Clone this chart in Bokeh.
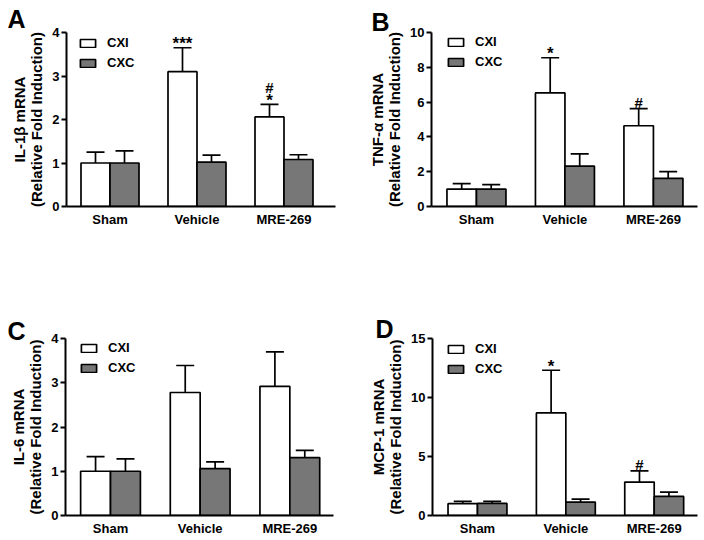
from bokeh.plotting import figure
from bokeh.models import (Range1d, FixedTicker, Whisker, TeeHead, Label,
                          Legend, LegendItem, ColumnDataSource)
from bokeh.layouts import column, row
from bokeh.embed import file_html
from bokeh.resources import INLINE

# ---------------- data ----------------
groups = ["Sham", "Vehicle", "MRE-269"]
series_names = ["CXI", "CXC"]

il1b_cxi = [1.00, 3.10, 2.06]
il1b_cxi_err = [0.25, 0.55, 0.29]
il1b_cxc = [1.00, 1.02, 1.08]
il1b_cxc_err = [0.28, 0.16, 0.11]

tnf_cxi = [1.00, 6.53, 4.64]
tnf_cxi_err = [0.32, 2.02, 0.98]
tnf_cxc = [1.00, 2.32, 1.62]
tnf_cxc_err = [0.26, 0.70, 0.38]

il6_cxi = [1.00, 2.78, 2.92]
il6_cxi_err = [0.33, 0.61, 0.78]
il6_cxc = [1.00, 1.06, 1.31]
il6_cxc_err = [0.28, 0.15, 0.16]

mcp1_cxi = [1.00, 8.69, 2.83]
mcp1_cxi_err = [0.19, 3.62, 0.96]
mcp1_cxc = [1.02, 1.14, 1.62]
mcp1_cxc_err = [0.18, 0.25, 0.36]

il1b_marks = [("Vehicle", "***"), ("MRE-269", "*"), ("MRE-269", "#")]
tnf_marks = [("Vehicle", "*"), ("MRE-269", "#")]
il6_marks = []
mcp1_marks = [("Vehicle", "*"), ("MRE-269", "#")]

il1b_ticks = [0, 1, 2, 3, 4]
tnf_ticks = [0, 2, 4, 6, 8, 10]
il6_ticks = [0, 1, 2, 3, 4]
mcp1_ticks = [0, 5, 10, 15]

FONT = "Liberation Sans"
GRAY = "#777777"
BAR_W = 1 / 3


def panel(letter, ylabel, cxi, cxi_err, cxc, cxc_err, marks, yticks,
          fw, fh, left, top, right, bottom, xstart, xend,
          letter_dx, letter_standoff, leg_dx, leg_dy):
    p = figure(width=fw, height=fh, x_range=Range1d(xstart, xend),
               y_range=Range1d(yticks[0], yticks[-1]),
               output_backend="svg", toolbar_location=None,
               min_border_left=left, min_border_top=top,
               min_border_right=right, min_border_bottom=bottom)
    p.outline_line_color = None
    p.grid.visible = False
    p.background_fill_color = "white"
    p.border_fill_color = "white"

    frame_h = fh - top - bottom

    xs = list(range(1, len(groups) + 1))
    src_i = ColumnDataSource(dict(x=[x - BAR_W / 2 for x in xs], top=cxi,
                                  up=[v + e for v, e in zip(cxi, cxi_err)]))
    src_c = ColumnDataSource(dict(x=[x + BAR_W / 2 for x in xs], top=cxc,
                                  up=[v + e for v, e in zip(cxc, cxc_err)]))
    r1 = p.vbar(x="x", top="top", width=BAR_W, source=src_i,
                fill_color="white", line_color="black", line_width=1.7)
    r2 = p.vbar(x="x", top="top", width=BAR_W, source=src_c,
                fill_color=GRAY, line_color="black", line_width=1.7)
    for src in (src_i, src_c):
        p.add_layout(Whisker(source=src, base="x", lower="top", upper="up",
                             dimension="height", line_width=1.7,
                             line_color="black",
                             upper_head=TeeHead(size=18, line_width=1.7,
                                                line_color="black"),
                             lower_head=None))

    # axes
    for ax in (p.xaxis[0], p.yaxis[0]):
        ax.axis_line_width = 2
        ax.axis_line_color = "black"
        ax.major_label_text_font = FONT
        ax.major_label_text_font_style = "bold"
        ax.major_label_text_font_size = "13px"
        ax.major_label_text_color = "black"
        ax.minor_tick_line_color = None
    p.xaxis.ticker = FixedTicker(ticks=xs)
    p.xaxis.major_label_overrides = {x: g for x, g in zip(xs, groups)}
    p.xaxis.major_tick_out = 0
    p.xaxis.major_tick_in = 0
    p.xaxis.major_tick_line_color = None
    p.xaxis.major_label_standoff = 5
    p.yaxis.ticker = FixedTicker(ticks=yticks)
    p.yaxis.major_tick_out = 5
    p.yaxis.major_tick_in = 0
    p.yaxis.major_tick_line_width = 2
    p.yaxis.major_tick_line_color = "black"
    p.yaxis.major_label_standoff = 2

    # y axis title (two lines)
    p.yaxis.axis_label = ylabel + "\n(Relative Fold Induction)"
    p.yaxis.axis_label_text_font = FONT
    p.yaxis.axis_label_text_font_style = "bold"
    p.yaxis.axis_label_text_font_size = "15px"
    p.yaxis.axis_label_text_color = "black"
    p.yaxis.axis_label_text_line_height = 1.0
    p.yaxis.axis_label_standoff = 4

    # panel letter as title
    p.title.text = letter
    p.title.align = "left"
    p.title.offset = letter_dx
    p.title.standoff = letter_standoff
    p.title.text_font = FONT
    p.title.text_font_style = "bold"
    p.title.text_font_size = "25px"
    p.title.text_color = "black"

    # significance marks above CXI bars
    count = {}
    for g, m in marks:
        i = groups.index(g)
        n = count.get(g, 0)
        count[g] = n + 1
        star = m.startswith("*")
        off = 4 if star else 6
        if n > 0:
            off = 17
        p.add_layout(Label(x=xs[i] - BAR_W / 2, y=cxi[i] + cxi_err[i],
                           y_offset=off, text=m, text_align="center",
                           text_baseline="alphabetic", text_font=FONT,
                           text_font_style="bold",
                           text_font_size="17px" if star else "15px",
                           text_color="black"))

    # legend
    legend = Legend(items=[LegendItem(label=series_names[0], renderers=[r1]),
                           LegendItem(label=series_names[1], renderers=[r2])],
                    glyph_width=19, glyph_height=10, label_height=10,
                    spacing=5, padding=0, margin=0, label_standoff=10,
                    border_line_color=None, background_fill_alpha=0,
                    label_text_font=FONT, label_text_font_style="bold",
                    label_text_font_size="13px", label_text_color="black",
                    location=(leg_dx, frame_h - leg_dy - 35))
    p.add_layout(legend)
    return p


pA = panel("A", "IL-1\u03b2 mRNA", il1b_cxi, il1b_cxi_err, il1b_cxc, il1b_cxc_err,
           il1b_marks, il1b_ticks, 352, 270, 66, 32, 17, 63,
           0.50, 3.592, -59, 0, 12, 4)
pB = panel("B", "TNF-\u03b1 mRNA", tnf_cxi, tnf_cxi_err, tnf_cxc, tnf_cxc_err,
           tnf_marks, tnf_ticks, 352, 270, 79, 30, 7, 64,
           0.492, 3.498, -60, -7, 15, 4)
pC = panel("C", "IL-6 mRNA", il6_cxi, il6_cxi_err, il6_cxc, il6_cxc_err,
           il6_marks, il6_ticks, 352, 270, 65, 66, 19, 25,
           0.498, 3.487, -58, -12, 14, 4)
pD = panel("D", "MCP-1 mRNA", mcp1_cxi, mcp1_cxi_err, mcp1_cxc, mcp1_cxc_err,
           mcp1_marks, mcp1_ticks, 352, 270, 80, 68, 7, 24,
           0.491, 3.490, -57, -8, 14, 4)

layout = column(row(pA, pB), row(pC, pD))
open("out.html", "w").write(file_html(layout, INLINE))
